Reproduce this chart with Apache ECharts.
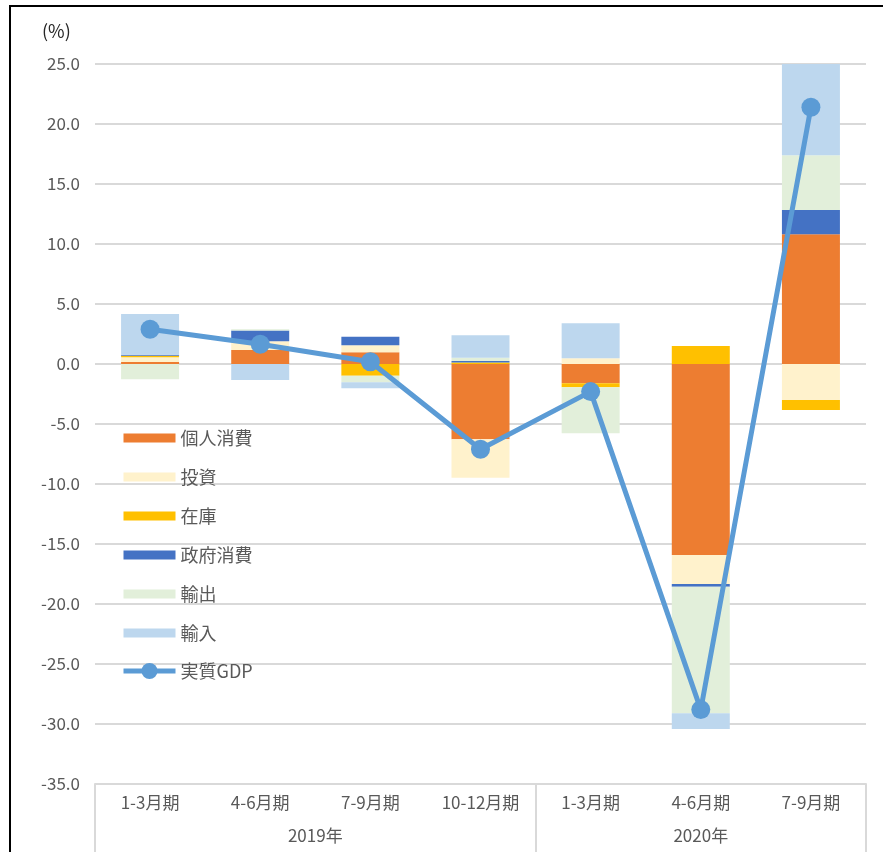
<!DOCTYPE html>
<html>
<head>
<meta charset="utf-8">
<script src="https://cdn.jsdelivr.net/npm/echarts@6/dist/echarts.min.js"></script>
<style>
  html, body { margin: 0; padding: 0; background: #fff; }
  #main { width: 883px; height: 852px; }
</style>
</head>
<body>
<div id="main"></div>
<script>
// 四半期 (カテゴリ) と年
var quarters = ['1-3月期', '4-6月期', '7-9月期', '10-12月期', '1-3月期', '4-6月期', '7-9月期'];
var years = ['2019年', '2020年'];

// 寄与度 (%)
var kojin   = [0.17, 1.17, 0.97, -6.28, -1.61, -15.92, 10.81];
var toshi   = [0.39, 0.72, 0.60, -3.20, 0.47, -2.41, -3.00];
var zaiko   = [0.13, 0.00, -0.97, 0.12, -0.33, 1.50, -0.83];
var seifu   = [0.08, 0.90, 0.70, 0.13, 0.00, -0.23, 2.02];
var yushutsu = [-1.28, 0.10, -0.56, 0.28, -3.83, -10.54, 4.56];
var yunyu   = [3.39, -1.33, -0.50, 1.86, 2.92, -1.31, 7.60];
var gdp     = [2.9, 1.64, 0.19, -7.1, -2.3, -28.8, 21.4];

var yTicks = { min: -35, max: 25, step: 5 };

var gray = '#595959';
var font = '"Noto Sans CJK JP", "Noto Sans", sans-serif';
// 凡例の棒アイコン（高さ20の枠の中に細い帯）
var barIcon = 'path://M0,0M0,5.5h52v9h-52zM52,20';

function barSeries(name, data, color) {
  return {
    name: name,
    type: 'bar',
    stack: 'total',
    barWidth: 58,
    data: data,
    itemStyle: { color: color },
    emphasis: { disabled: true }
  };
}

var myChart = echarts.init(document.getElementById('main'));
myChart.setOption({
  animation: false,
  textStyle: { fontFamily: font },
  title: {
    text: '(%)',
    left: 37,
    top: 17,
    textStyle: { fontSize: 18, fontWeight: 'normal', color: '#262626', fontFamily: font }
  },
  graphic: [{
    type: 'rect',
    shape: { x: 10, y: 6, width: 900, height: 900 },
    style: { fill: 'none', stroke: '#000', lineWidth: 2 },
    silent: true
  }],
  legend: {
    orient: 'vertical',
    left: 116,
    top: 423,
    itemWidth: 52,
    itemHeight: 20,
    itemGap: 19,
    textStyle: { fontSize: 18, color: gray, fontFamily: font },
    data: [
      { name: '個人消費', icon: barIcon },
      { name: '投資', icon: barIcon },
      { name: '在庫', icon: barIcon },
      { name: '政府消費', icon: barIcon },
      { name: '輸出', icon: barIcon },
      { name: '輸入', icon: barIcon },
      { name: '実質GDP', lineStyle: { width: 5 } }
    ]
  },
  grid: { left: 95, right: 17, top: 64, bottom: 68 },
  xAxis: [{
    type: 'category',
    data: quarters,
    axisLine: { show: true, onZero: false, lineStyle: { color: '#d9d9d9', width: 2 } },
    axisTick: {
      show: true,
      interval: function (i) { return i === 0 || i === 4; },
      length: 68,
      lineStyle: { color: '#d9d9d9', width: 2 }
    },
    axisLabel: { fontSize: 17, color: gray, margin: 10, interval: 0, fontFamily: font }
  }, {
    type: 'value',
    min: 0,
    max: 7,
    interval: 0.5,
    position: 'bottom',
    offset: 33,
    axisLine: { show: false },
    axisTick: { show: false },
    splitLine: { show: false },
    axisLabel: {
      fontSize: 17,
      color: gray,
      margin: 10,
      fontFamily: font,
      formatter: function (v) {
        if (v === 2) return years[0];
        if (v === 5.5) return years[1];
        return '';
      }
    }
  }],
  yAxis: {
    type: 'value',
    min: yTicks.min,
    max: yTicks.max,
    interval: yTicks.step,
    axisLine: { show: false },
    axisTick: { show: false },
    splitLine: { lineStyle: { color: '#d9d9d9', width: 2 } },
    axisLabel: {
      fontSize: 17,
      color: gray,
      margin: 15,
      fontFamily: font,
      formatter: function (v) { return v.toFixed(1); }
    }
  },
  series: [
    barSeries('個人消費', kojin, '#ED7D31'),
    barSeries('投資', toshi, '#FFF2CC'),
    barSeries('在庫', zaiko, '#FFC000'),
    barSeries('政府消費', seifu, '#4472C4'),
    barSeries('輸出', yushutsu, '#E2EFDA'),
    barSeries('輸入', yunyu, '#BDD7EE'),
    {
      name: '実質GDP',
      type: 'line',
      data: gdp,
      symbol: 'circle',
      symbolSize: 19,
      lineStyle: { color: '#5B9BD5', width: 5 },
      itemStyle: { color: '#5B9BD5' },
      z: 5
    }
  ]
});
</script>
</body>
</html>
